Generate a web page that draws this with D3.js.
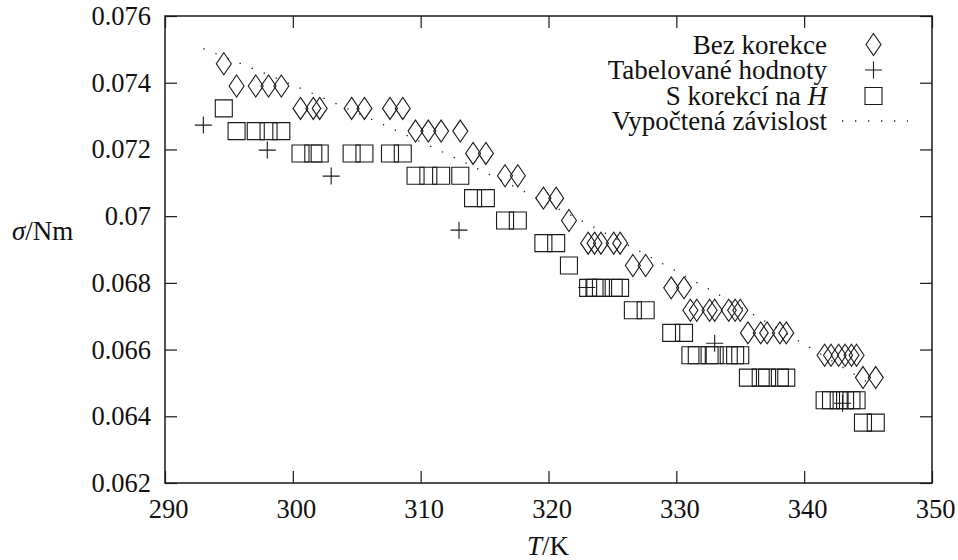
<!DOCTYPE html>
<html>
<head>
<meta charset="utf-8">
<script src="https://cdn.jsdelivr.net/npm/d3@7"></script>
<style>
body { margin: 0; background: #fff; }
text { font-family: "Liberation Serif", "DejaVu Serif", serif; fill: #111; }
</style>
</head>
<body>
<div id="chart-area"></div>
<script>

// SVG size
var width = 958,
	height = 560;

// plot box
var boxLeft = 165, boxRight = 932, boxTop = 16, boxBottom = 483;

// Bez korekce (diamonds)
var bezT = [294.6,
	295.6, 297.1, 298.1, 299.1,
	300.6, 301.6, 302.1, 304.6, 305.6, 307.6, 308.6,
	309.6, 310.6, 311.6, 313.1,
	314.1, 315.1,
	316.6, 317.6,
	319.6, 320.6,
	321.6,
	323.1, 323.6, 324.1, 325.1, 325.6,
	326.6, 327.6,
	329.6, 330.6,
	331.1, 331.6, 332.6, 333.0, 334.1, 334.6, 335.0,
	335.6, 336.6, 337.1, 338.1, 338.6,
	341.6, 342.1, 342.7, 343.2, 343.7, 344.1,
	344.6, 345.6];
var bezSigma = [0.07457,
	0.0739, 0.0739, 0.0739, 0.0739,
	0.07323, 0.07323, 0.07323, 0.07323, 0.07323, 0.07323, 0.07323,
	0.07255, 0.07255, 0.07255, 0.07255,
	0.07188, 0.07188,
	0.07121, 0.07121,
	0.07054, 0.07054,
	0.06987,
	0.06919, 0.06919, 0.06919, 0.06919, 0.06919,
	0.06852, 0.06852,
	0.06785, 0.06785,
	0.06718, 0.06718, 0.06718, 0.06718, 0.06718, 0.06718, 0.06718,
	0.0665, 0.0665, 0.0665, 0.0665, 0.0665,
	0.06583, 0.06583, 0.06583, 0.06583, 0.06583, 0.06583,
	0.06516, 0.06516];

// Tabelované hodnoty (plus)
var tabT = [293, 298, 303, 313, 323, 333, 343];
var tabSigma = [0.07273, 0.07198, 0.0712, 0.06958, 0.06786, 0.06619, 0.06439];

// S korekcí na H (squares)
var korT = [294.6,
	295.6, 297.1, 298.1, 299.1,
	300.6, 301.6, 302.1, 304.6, 305.6, 307.6, 308.6,
	309.6, 310.6, 311.6, 313.1,
	314.1, 315.1,
	316.6, 317.6,
	319.6, 320.6,
	321.6,
	323.1, 323.6, 324.1, 325.1, 325.6,
	326.6, 327.6,
	329.6, 330.6,
	331.1, 331.6, 332.6, 333.0, 334.1, 334.6, 335.0,
	335.6, 336.6, 337.1, 338.1, 338.6,
	341.6, 342.1, 342.7, 343.2, 343.7, 344.1,
	344.6, 345.6];
var korSigma = [0.07323,
	0.07255, 0.07255, 0.07255, 0.07255,
	0.07188, 0.07188, 0.07188, 0.07188, 0.07188, 0.07188, 0.07188,
	0.07121, 0.07121, 0.07121, 0.07121,
	0.07054, 0.07054,
	0.06987, 0.06987,
	0.06919, 0.06919,
	0.06852,
	0.06785, 0.06785, 0.06785, 0.06785, 0.06785,
	0.06718, 0.06718,
	0.0665, 0.0665,
	0.06583, 0.06583, 0.06583, 0.06583, 0.06583, 0.06583, 0.06583,
	0.06516, 0.06516, 0.06516, 0.06516, 0.06516,
	0.06448, 0.06448, 0.06448, 0.06448, 0.06448, 0.06448,
	0.06381, 0.06381];

// Vypočtená závislost (dotted curve)
var fitT = [293, 296, 300, 305, 310, 315, 320, 325, 330, 335, 340, 345];
var fitSigma = [0.07502, 0.07456, 0.07393, 0.0731, 0.07223, 0.07132, 0.07037, 0.06938, 0.06835, 0.06728, 0.06616, 0.06501];

// axes
var xTicks = [290, 300, 310, 320, 330, 340, 350];
var yTicks = [0.062, 0.064, 0.066, 0.068, 0.07, 0.072, 0.074, 0.076];

var legendLabels = ["Bez korekce", "Tabelované hodnoty", "S korekcí na ", "Vypočtená závislost"];

var zip = function(a, b) {
	return a.map(function(t, i) { return { T: t, s: b[i] }; });
};

var svg = d3.select("#chart-area")
	.append("svg")
	.attr("width", width)
	.attr("height", height);

var x = d3.scaleLinear().domain([290, 350]).range([boxLeft, boxRight]);
var y = d3.scaleLinear().domain([0.062, 0.076]).range([boxBottom, boxTop]);

var ink = "#1a1a1a";
var diamondPath = "M0,-11L7.5,0L0,11L-7.5,0Z";
var squarePath = "M-8.5,-8.5H8.5V8.5H-8.5Z";
var plusPath = "M-8.5,0H8.5M0,-8.5V8.5";

// axes with inward ticks, mirrored on top/right
var fmt = function(d) { return String(+d.toFixed(3)); };

var gx = svg.append("g")
	.attr("transform", "translate(0," + boxBottom + ")")
	.call(d3.axisBottom(x).tickValues(xTicks).tickSize(-12).tickPadding(16).tickFormat(d3.format("d")));
var gy = svg.append("g")
	.attr("transform", "translate(" + boxLeft + ",0)")
	.call(d3.axisLeft(y).tickValues(yTicks).tickSize(-12).tickPadding(14).tickFormat(fmt));
var gt = svg.append("g")
	.attr("transform", "translate(0," + boxTop + ")")
	.call(d3.axisTop(x).tickValues(xTicks).tickSize(-12).tickFormat(""));
var gr = svg.append("g")
	.attr("transform", "translate(" + boxRight + ",0)")
	.call(d3.axisRight(y).tickValues(yTicks).tickSize(-12).tickFormat(""));

[gx, gy, gt, gr].forEach(function(g) {
	g.select(".domain").remove();
	g.selectAll("line").attr("stroke", ink).attr("stroke-width", 1.2);
	g.selectAll("text")
		.attr("fill", ink)
		.style("font-family", "'Liberation Serif', serif")
		.style("font-size", "26.5px");
});
gx.selectAll("text").attr("dx", 3);

svg.append("rect")
	.attr("x", boxLeft).attr("y", boxTop)
	.attr("width", boxRight - boxLeft).attr("height", boxBottom - boxTop)
	.attr("fill", "none").attr("stroke", ink).attr("stroke-width", 1.5);

// axis titles
var xt = svg.append("text")
	.attr("x", 548).attr("y", 555)
	.attr("text-anchor", "middle")
	.style("font-size", "27px");
xt.append("tspan").style("font-style", "italic").text("T");
xt.append("tspan").text("/K");

var yt = svg.append("text")
	.attr("x", 12).attr("y", 240)
	.style("font-size", "27px");
yt.append("tspan").style("font-style", "italic").text("σ");
yt.append("tspan").text("/Nm");

// series
svg.append("g").selectAll("path")
	.data(zip(bezT, bezSigma))
	.enter().append("path")
	.attr("transform", function(d) { return "translate(" + x(d.T) + "," + y(d.s) + ")"; })
	.attr("d", diamondPath)
	.attr("fill", "none").attr("stroke", ink).attr("stroke-width", 1.1);

svg.append("g").selectAll("path")
	.data(zip(tabT, tabSigma))
	.enter().append("path")
	.attr("transform", function(d) { return "translate(" + x(d.T) + "," + y(d.s) + ")"; })
	.attr("d", plusPath)
	.attr("fill", "none").attr("stroke", ink).attr("stroke-width", 1.1);

svg.append("g").selectAll("path")
	.data(zip(korT, korSigma))
	.enter().append("path")
	.attr("transform", function(d) { return "translate(" + x(d.T) + "," + y(d.s) + ")"; })
	.attr("d", squarePath)
	.attr("fill", "none").attr("stroke", ink).attr("stroke-width", 1.1);

var line = d3.line()
	.x(function(d) { return x(d.T); })
	.y(function(d) { return y(d.s); })
	.curve(d3.curveMonotoneX);

svg.append("path")
	.datum(zip(fitT, fitSigma))
	.attr("d", line)
	.attr("fill", "none")
	.attr("stroke", ink)
	.attr("stroke-width", 1.3)
	.attr("stroke-dasharray", "1.3,11.7");

// legend
var lg = svg.append("g");
var rowY = [44.5, 70, 96, 121];
legendLabels.forEach(function(lab, i) {
	var t = lg.append("text")
		.attr("x", 827).attr("y", rowY[i])
		.attr("dy", "0.34em")
		.attr("text-anchor", "end")
		.style("font-size", "27px")
		.text(lab);
	if (i == 2) t.append("tspan").style("font-style", "italic").text("H");
});
lg.append("path").attr("transform", "translate(873.5," + rowY[0] + ")").attr("d", diamondPath)
	.attr("fill", "none").attr("stroke", ink).attr("stroke-width", 1.1);
lg.append("path").attr("transform", "translate(873.5," + rowY[1] + ")").attr("d", plusPath)
	.attr("fill", "none").attr("stroke", ink).attr("stroke-width", 1.1);
lg.append("path").attr("transform", "translate(873.5," + rowY[2] + ")").attr("d", squarePath)
	.attr("fill", "none").attr("stroke", ink).attr("stroke-width", 1.1);
lg.append("line")
	.attr("x1", 842).attr("x2", 908).attr("y1", rowY[3]).attr("y2", rowY[3])
	.attr("stroke", ink).attr("stroke-width", 1.3)
	.attr("stroke-dasharray", "1.3,11.7");

</script>
</body>
</html>
